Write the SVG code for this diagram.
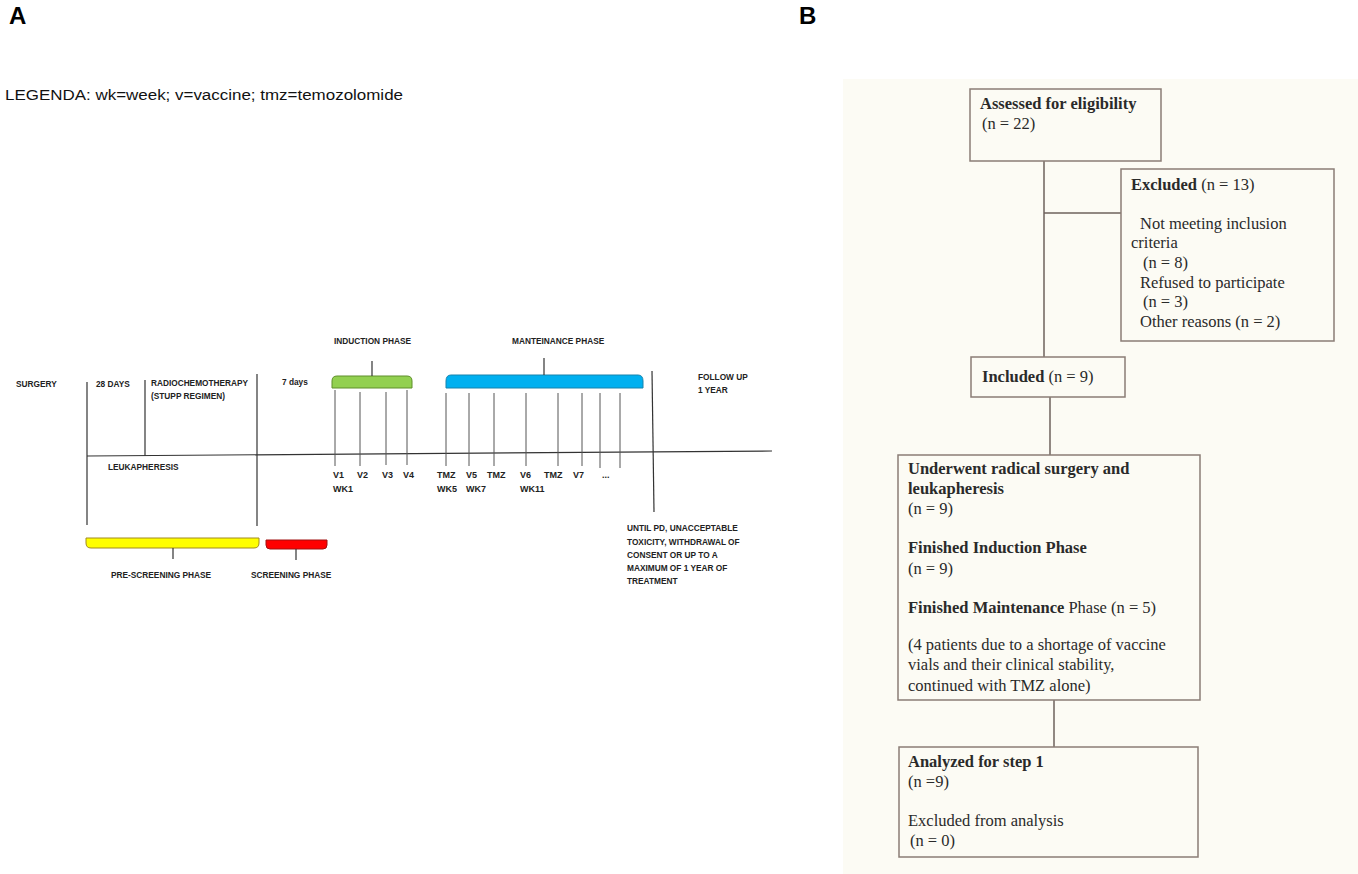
<svg xmlns="http://www.w3.org/2000/svg" width="1358" height="874" viewBox="0 0 1358 874">
<style>
.lbl{font-family:"Liberation Sans",Arial,sans-serif;font-weight:bold;font-size:24px;fill:#000}
.t{font-family:"Liberation Sans",Arial,sans-serif;font-weight:bold;font-size:8.3px;fill:#222}
.v{font-family:"Liberation Sans",Arial,sans-serif;font-weight:bold;font-size:9px;fill:#222}
.leg{font-family:"Liberation Sans",Arial,sans-serif;font-size:14px;fill:#111}
.ln{stroke:#333;stroke-width:1.2;fill:none}
.tk{stroke:#555;stroke-width:1;fill:none}
.fc{font-family:"Liberation Serif","Times New Roman",serif;font-size:16.5px;fill:#2a2a2a}
.b{font-weight:bold}
.box{fill:none;stroke:#8a7d76;stroke-width:1.5}
.con{stroke:#6e625c;stroke-width:1.5;fill:none}
</style>
<rect width="1358" height="874" fill="#ffffff"/>
<text class="lbl" x="9" y="24">A</text>
<text class="lbl" x="799" y="24">B</text>
<text class="leg" x="5" y="100" textLength="398" lengthAdjust="spacingAndGlyphs">LEGENDA: wk=week; v=vaccine; tmz=temozolomide</text>

<g id="timeline">
<path class="ln" d="M87,456 L772,451"/>
<path class="ln" d="M87,382 L87,525"/>
<path class="ln" d="M145,380 L145,456"/>
<path class="ln" d="M257,374 L257,526"/>
<path class="ln" d="M652,371 L654,512"/>
<text class="t" x="16" y="387">SURGERY</text>
<text class="t" x="96" y="387">28 DAYS</text>
<text class="t" x="151" y="386" textLength="97" lengthAdjust="spacingAndGlyphs">RADIOCHEMOTHERAPY</text>
<text class="t" x="151" y="399">(STUPP  REGIMEN)</text>
<text class="t" x="108" y="470">LEUKAPHERESIS</text>
<text class="t" x="282" y="385">7 days</text>
<text class="t" x="698" y="380">FOLLOW UP</text>
<text class="t" x="698" y="393">1 YEAR</text>
</g>

<g id="induction">
<path d="M332,388 L332,381 Q332,376 337,376 L407,376 Q412,376 412,381 L412,388 Z" fill="#92d050" stroke="#5f8f2a" stroke-width="1"/>
<path class="ln" d="M372,376 L372,361"/>
<text class="t" x="334" y="344">INDUCTION  PHASE</text>
<path class="tk" d="M335,390 L335,466 M360,392 L360,466 M386,392 L386,465 M407,390 L407,465"/>
<text class="v" x="333" y="478">V1</text>
<text class="v" x="357" y="478">V2</text>
<text class="v" x="382" y="478">V3</text>
<text class="v" x="403" y="478">V4</text>
<text class="v" x="333" y="492">WK1</text>
</g>

<g id="maintenance">
<path d="M446,388 L446,381 Q446,375 451,375 L638,375 Q643,375 643,381 L643,388 Z" fill="#00b0f0" stroke="#1683ad" stroke-width="1"/>
<path class="ln" d="M544,375 L544,358"/>
<text class="t" x="512" y="344">MANTEINANCE  PHASE</text>
<path class="tk" d="M446,393 L446,466 M469,393 L469,466 M494,393 L494,466 M526,393 L526,466 M558,393 L558,466 M582,393 L582,466 M600,393 L600,468 M620,393 L620,468"/>
<text class="v" x="437" y="478">TMZ</text>
<text class="v" x="466" y="478">V5</text>
<text class="v" x="487" y="478">TMZ</text>
<text class="v" x="520" y="478">V6</text>
<text class="v" x="544" y="478">TMZ</text>
<text class="v" x="573" y="478">V7</text>
<text class="v" x="602" y="478">...</text>
<text class="v" x="437" y="492">WK5</text>
<text class="v" x="466" y="492">WK7</text>
<text class="v" x="520" y="492">WK11</text>
</g>

<g id="prescreening">
<path d="M86,538 L86,543 Q86,548 91,548 L254,548 Q259,548 259,543 L259,538 Z" fill="#ffff00" stroke="#a08a20" stroke-width="1"/>
<path class="ln" d="M173,548 L173,559"/>
<text class="t" x="111" y="578">PRE-SCREENING PHASE</text>
</g>
<g id="screening">
<path d="M266,540 L266,545 Q266,549 270,549 L323,549 Q327,549 327,545 L327,540 Z" fill="#ff0000" stroke="#a01010" stroke-width="1"/>
<path class="ln" d="M296,549 L296,560"/>
<text class="t" x="251" y="578">SCREENING PHASE</text>
</g>

<g id="until">
<text class="t" x="627" y="531">UNTIL PD, UNACCEPTABLE</text>
<text class="t" x="627" y="545">TOXICITY,  WITHDRAWAL  OF</text>
<text class="t" x="627" y="558">CONSENT OR UP TO A</text>
<text class="t" x="627" y="571">MAXIMUM  OF 1 YEAR OF</text>
<text class="t" x="627" y="584">TREATMENT</text>
</g>

<rect x="843" y="79" width="515" height="795" fill="#fcfbf4"/>

<g id="connectors">
<path class="con" d="M1044,161 L1044,357"/>
<path class="con" d="M1044,213 L1121,213"/>
<path class="con" d="M1050,397 L1050,455"/>
<path class="con" d="M1054,700 L1054,747"/>
</g>

<g id="assessed">
<rect class="box" x="970" y="89" width="191" height="72"/>
<text class="fc b" x="980" y="109">Assessed for eligibility</text>
<text class="fc" x="982" y="129">(n = 22)</text>
</g>

<g id="excluded">
<rect class="box" x="1121" y="169" width="213" height="172"/>
<text class="fc" x="1131" y="190"><tspan class="b">Excluded</tspan> (n = 13)</text>
<text class="fc" x="1140" y="229">Not meeting inclusion</text>
<text class="fc" x="1131" y="248">criteria</text>
<text class="fc" x="1143" y="268">(n = 8)</text>
<text class="fc" x="1140" y="288">Refused to participate</text>
<text class="fc" x="1143" y="307">(n = 3)</text>
<text class="fc" x="1140" y="327">Other reasons (n = 2)</text>
</g>

<g id="included">
<rect class="box" x="971" y="357" width="154" height="40"/>
<text class="fc" x="982" y="382"><tspan class="b">Included</tspan> (n = 9)</text>
</g>

<g id="underwent">
<rect class="box" x="898" y="455" width="302" height="245"/>
<text class="fc b" x="908" y="474">Underwent radical surgery and</text>
<text class="fc b" x="908" y="494">leukapheresis</text>
<text class="fc" x="908" y="514">(n = 9)</text>
<text class="fc b" x="908" y="553">Finished Induction Phase</text>
<text class="fc" x="908" y="574">(n = 9)</text>
<text class="fc" x="908" y="613"><tspan class="b">Finished Maintenance</tspan> Phase (n = 5)</text>
<text class="fc" x="908" y="650">(4 patients due to a shortage of vaccine</text>
<text class="fc" x="908" y="670">vials and their clinical stability,</text>
<text class="fc" x="908" y="691">continued with TMZ alone)</text>
</g>

<g id="analyzed">
<rect class="box" x="899" y="747" width="299" height="110"/>
<text class="fc b" x="908" y="767">Analyzed for step 1</text>
<text class="fc" x="908" y="787">(n =9)</text>
<text class="fc" x="908" y="826">Excluded from analysis</text>
<text class="fc" x="910" y="846">(n = 0)</text>
</g>
</svg>
